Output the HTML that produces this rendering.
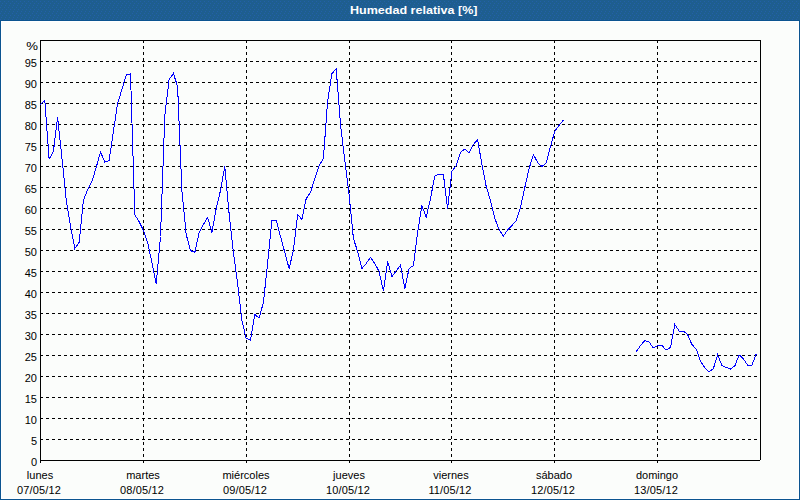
<!DOCTYPE html>
<html><head><meta charset="utf-8"><style>
html,body{margin:0;padding:0;}
body{width:800px;height:500px;overflow:hidden;position:relative;background:#fbfdfb;font-family:"Liberation Sans",sans-serif;}
#hdr{position:absolute;left:0;top:0;width:800px;height:20px;background:#1e5e8f;}
#ttl{position:absolute;left:350px;top:0;white-space:nowrap;color:#fff;font-weight:bold;font-size:11px;line-height:20px;transform-origin:0 0;transform:scaleX(1.14);}
.yl{position:absolute;left:0;width:37px;text-align:right;font-size:11px;line-height:8px;height:8px;color:#000;}
.xl{position:absolute;width:80px;text-align:center;font-size:11px;line-height:8px;height:8px;color:#000;}
.dt{letter-spacing:0.15px;}
svg{position:absolute;left:0;top:0;}
</style></head><body>
<svg width="800" height="20" style="position:absolute;left:0;top:0" shape-rendering="crispEdges"><defs><pattern id="dp" width="4" height="6" patternUnits="userSpaceOnUse"><rect width="4" height="6" fill="#1e5e8f"/><rect x="0" y="1" width="1" height="1" fill="#2360a8"/><rect x="2" y="3" width="1" height="1" fill="#2360a8"/><rect x="1" y="5" width="1" height="1" fill="#2360a8"/></pattern></defs><rect width="800" height="20" fill="url(#dp)"/></svg>
<div id="ttl">Humedad relativa [%]</div>
<svg width="800" height="500" shape-rendering="crispEdges">
<rect x="0" y="20" width="800" height="1" fill="#0b5490"/>
<rect x="0" y="20" width="1" height="480" fill="#0b5490"/>
<rect x="799" y="20" width="1" height="480" fill="#0b5490"/>
<rect x="0" y="499" width="800" height="1" fill="#0b5490"/>
<rect x="1" y="21" width="1" height="478" fill="#fff"/>
<rect x="798" y="21" width="1" height="478" fill="#fff"/>
<rect x="1" y="21" width="798" height="1" fill="#fff"/>
<rect x="1" y="498" width="798" height="1" fill="#fff"/>
<g stroke="#000" stroke-width="1" stroke-dasharray="3 3">
<line x1="40" y1="439.5" x2="760" y2="439.5"/><line x1="40" y1="418.5" x2="760" y2="418.5"/><line x1="40" y1="397.5" x2="760" y2="397.5"/><line x1="40" y1="376.5" x2="760" y2="376.5"/><line x1="40" y1="355.5" x2="760" y2="355.5"/><line x1="40" y1="334.5" x2="760" y2="334.5"/><line x1="40" y1="313.5" x2="760" y2="313.5"/><line x1="40" y1="292.5" x2="760" y2="292.5"/><line x1="40" y1="271.5" x2="760" y2="271.5"/><line x1="40" y1="250.5" x2="760" y2="250.5"/><line x1="40" y1="229.5" x2="760" y2="229.5"/><line x1="40" y1="208.5" x2="760" y2="208.5"/><line x1="40" y1="187.5" x2="760" y2="187.5"/><line x1="40" y1="166.5" x2="760" y2="166.5"/><line x1="40" y1="145.5" x2="760" y2="145.5"/><line x1="40" y1="124.5" x2="760" y2="124.5"/><line x1="40" y1="103.5" x2="760" y2="103.5"/><line x1="40" y1="82.5" x2="760" y2="82.5"/><line x1="40" y1="61.5" x2="760" y2="61.5"/>
<line x1="143.5" y1="40" x2="143.5" y2="460"/><line x1="246.5" y1="40" x2="246.5" y2="460"/><line x1="349.5" y1="40" x2="349.5" y2="460"/><line x1="451.5" y1="40" x2="451.5" y2="460"/><line x1="554.5" y1="40" x2="554.5" y2="460"/><line x1="657.5" y1="40" x2="657.5" y2="460"/>
</g>
<g fill="#000">
<rect x="40" y="40" width="721" height="1"/>
<rect x="40" y="40" width="1" height="423"/>
<rect x="40" y="460" width="720" height="1"/>
<rect x="760" y="40" width="1" height="420"/>
<rect x="143" y="461" width="1" height="2"/><rect x="246" y="461" width="1" height="2"/><rect x="349" y="461" width="1" height="2"/><rect x="451" y="461" width="1" height="2"/><rect x="554" y="461" width="1" height="2"/><rect x="657" y="461" width="1" height="2"/>
</g>
<g fill="none" stroke="#0000ff" stroke-width="1">
<polyline points="40.5,104.5 44.8,100.5 49.1,159.0 53.4,151.5 57.6,117.5 61.9,157.5 66.2,199.5 70.5,226.5 74.8,248.5 79.1,242.5 83.4,200.5 87.6,189.5 91.9,181.5 96.2,167.5 100.5,152.0 104.8,162.0 109.1,160.5 113.4,131.5 117.6,103.5 121.9,89.5 126.2,75.0 130.5,73.8 134.8,215.0 139.1,221.5 143.4,230.5 147.6,242.5 151.9,262.5 156.2,283.5 160.5,236.5 164.8,115.5 169.1,79.5 173.4,73.5 177.6,86.5 181.9,190.5 186.2,234.5 190.5,250.5 194.8,252.5 199.1,232.5 203.4,224.5 207.6,217.5 211.9,232.5 216.2,208.5 220.5,190.5 224.8,166.5 229.1,213.5 233.4,252.5 237.6,283.5 241.9,320.5 246.2,338.5 250.5,340.0 254.8,314.5 259.1,318.0 263.4,302.5 267.6,263.5 271.9,220.0 276.2,220.0 280.5,236.5 284.8,252.5 289.1,268.5 293.4,250.5 297.6,214.5 301.9,219.5 306.2,198.5 310.5,192.5 314.8,178.5 319.1,165.5 323.4,158.5 327.6,101.5 331.9,73.5 336.2,69.0 340.5,124.5 344.8,160.5 349.1,194.5 353.4,238.5 357.6,251.5 361.9,268.5 366.2,263.5 370.5,257.5 374.8,263.5 379.1,271.5 383.4,291.0 387.6,261.5 391.9,276.5 396.2,271.0 400.5,265.0 404.8,288.5 409.1,268.5 413.4,265.5 417.6,232.5 421.9,205.5 426.2,217.5 430.5,198.5 434.8,176.0 439.1,174.0 443.4,174.5 447.6,208.5 451.9,171.5 456.2,165.5 460.5,152.5 464.8,149.0 469.1,153.0 473.4,144.5 477.6,139.5 481.9,164.5 486.2,186.5 490.5,200.5 494.8,218.5 499.1,229.5 503.4,236.0 507.6,230.0 511.9,225.5 516.2,220.5 520.5,207.5 524.8,187.5 529.1,168.5 533.4,154.5 537.6,162.5 541.9,166.5 546.2,163.0 550.5,146.5 554.8,131.0 559.1,125.5 563.4,120.0"/>
<polyline points="636.2,351.8 640.5,345.5 644.8,340.5 649.1,342.0 653.4,348.0 657.6,345.5 661.9,345.5 666.2,350.0 670.5,347.5 674.8,324.5 679.1,331.0 683.4,331.0 687.6,334.5 691.9,344.5 696.2,349.0 700.5,361.5 704.8,367.5 709.1,372.0 713.4,368.5 717.6,354.8 721.9,365.5 726.2,367.5 730.5,369.0 734.8,366.0 739.1,354.8 743.4,359.0 747.6,365.0 751.9,365.0 756.2,354.1"/>
</g>
</svg>
<div class="yl" style="top:458px">0</div><div class="yl" style="top:437px">5</div><div class="yl" style="top:416px">10</div><div class="yl" style="top:395px">15</div><div class="yl" style="top:374px">20</div><div class="yl" style="top:353px">25</div><div class="yl" style="top:332px">30</div><div class="yl" style="top:311px">35</div><div class="yl" style="top:290px">40</div><div class="yl" style="top:269px">45</div><div class="yl" style="top:248px">50</div><div class="yl" style="top:227px">55</div><div class="yl" style="top:206px">60</div><div class="yl" style="top:185px">65</div><div class="yl" style="top:164px">70</div><div class="yl" style="top:143px">75</div><div class="yl" style="top:122px">80</div><div class="yl" style="top:101px">85</div><div class="yl" style="top:80px">90</div><div class="yl" style="top:59px">95</div><div class="yl" style="top:42px;left:1px;transform-origin:37px 0;transform:scaleX(1.2)">%</div>
<div class="xl" style="left:0px;top:471px">lunes</div><div class="xl dt" style="left:-1px;top:486px">07/05/12</div><div class="xl" style="left:103px;top:471px">martes</div><div class="xl dt" style="left:102px;top:486px">08/05/12</div><div class="xl" style="left:206px;top:471px">miércoles</div><div class="xl dt" style="left:205px;top:486px">09/05/12</div><div class="xl" style="left:309px;top:471px">jueves</div><div class="xl dt" style="left:308px;top:486px">10/05/12</div><div class="xl" style="left:411px;top:471px">viernes</div><div class="xl dt" style="left:410px;top:486px">11/05/12</div><div class="xl" style="left:514px;top:471px">sábado</div><div class="xl dt" style="left:513px;top:486px">12/05/12</div><div class="xl" style="left:617px;top:471px">domingo</div><div class="xl dt" style="left:616px;top:486px">13/05/12</div>
</body></html>
